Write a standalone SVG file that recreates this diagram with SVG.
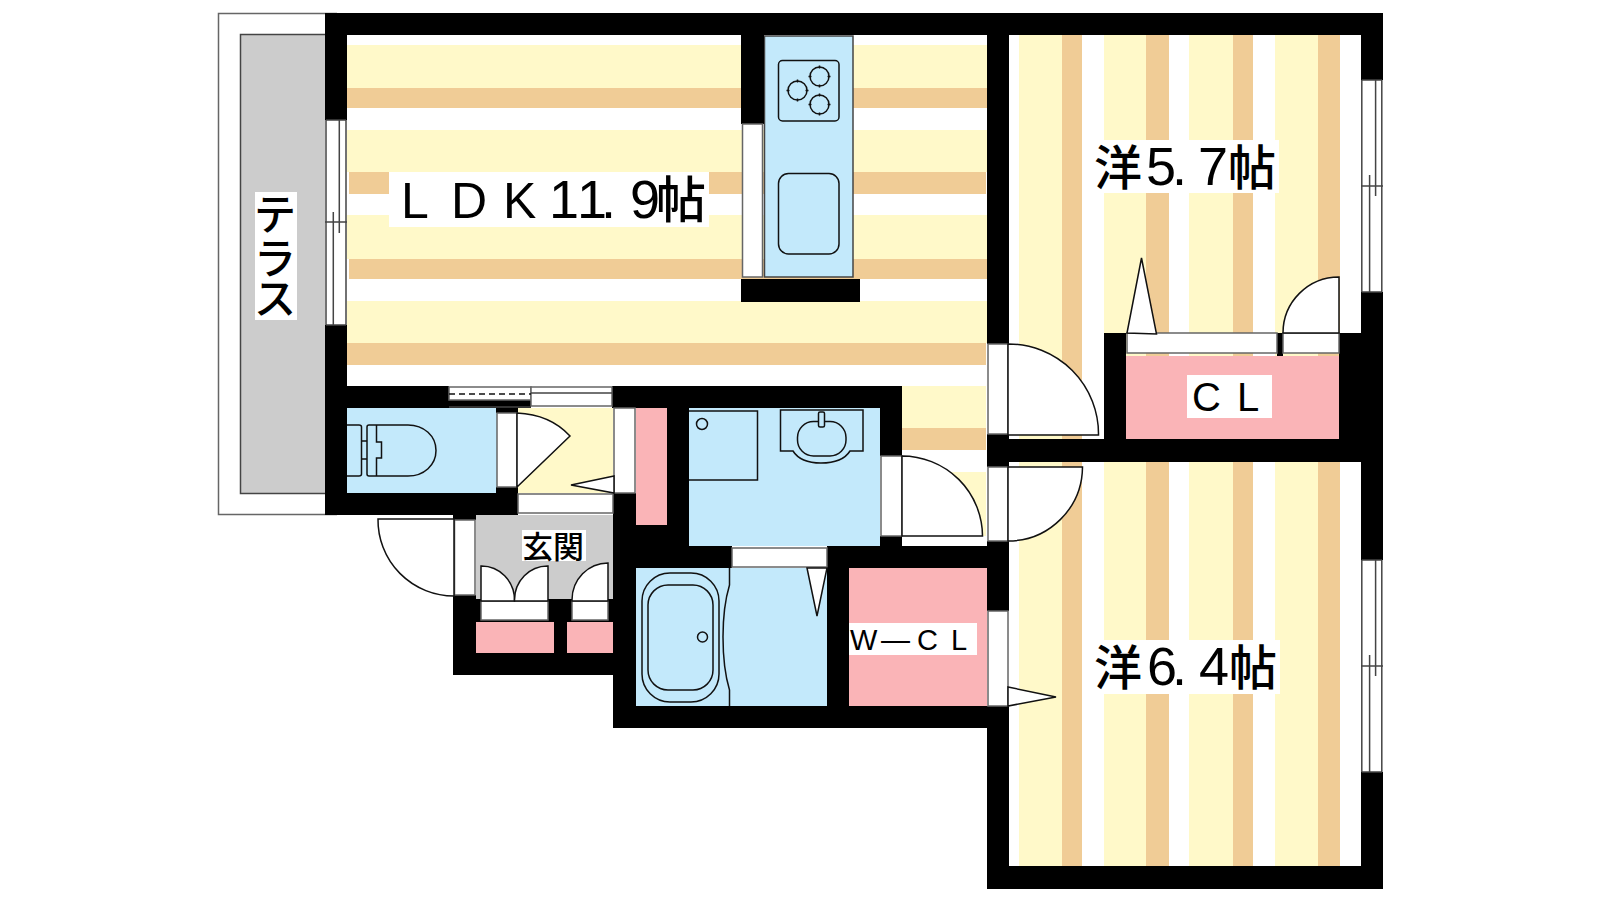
<svg xmlns="http://www.w3.org/2000/svg" width="1600" height="900" viewBox="0 0 1600 900">
<style>
text{font-family:"Noto Sans CJK JP","Noto Sans",sans-serif;fill:#000;font-weight:500}
.a{font-family:"Liberation Sans","Noto Sans CJK JP",sans-serif;font-weight:400}
.m{font-family:"Liberation Sans Narrow","Liberation Sans","Noto Sans CJK JP",sans-serif;font-weight:400}
.y{fill:#FFF9C9}.t{fill:#F0CC96}.b{fill:#C3E9FB}.p{fill:#FAB4B7}.g{fill:#CCC}.w{fill:#fff}.k{fill:#000}
.l{fill:none;stroke:#111;stroke-width:1.5}
.d{fill:#fff;stroke:#111;stroke-width:1.5}
.e{fill:#fff;stroke:#666;stroke-width:1.5}
.n{fill:none;stroke:#444;stroke-width:1.5}
</style>
<defs>
<path id="win" class="n" d="M.8 0H21M.8 212H21M.8 0V212M8.6 95V212M14.6 0V116M20.8 0V212M0 106H22"/>
<g id="burner">
<circle class="l" r="9.500"/>
<path class="l" d="M-11 0H-8M8 0H11M0 -11V-8M0 8V11"/>
</g>
</defs>
<rect class="w" width="1600" height="900"/>

<g id="terrace">
<path fill="#fff" stroke="#666" stroke-width="1.500" d="M337 13.500H218.500V514.500H337"/>
<rect class="g" x="240.500" y="34.500" width="90" height="459" stroke="#444" stroke-width="1.500"/>
<rect class="w" x="255" y="192" width="42" height="128"/>
<text font-size="42" x="254 254 254" y="230 274 314">テラス</text>
</g>

<g id="ldk-floor">
<rect class="w" x="347" y="35" width="640" height="501"/>
<rect class="y" x="347" y="45" width="640" height="43"/><rect class="t" x="347" y="88" width="640" height="20"/>
<rect class="y" x="347" y="130" width="640" height="42"/><rect class="t" x="349" y="172" width="637" height="22"/>
<rect class="y" x="347" y="215" width="640" height="44"/><rect class="t" x="349" y="259" width="638" height="20"/>
<rect class="y" x="347" y="301" width="640" height="42"/><rect class="t" x="347" y="343" width="639" height="22"/>
<rect class="y" x="902" y="386" width="84" height="42"/><rect class="t" x="902" y="428" width="84" height="22"/>
<rect class="y" x="902" y="472" width="84" height="64"/>
<rect class="w" x="389" y="172" width="320" height="55"/>
<text y="218"><tspan class="a" font-size="50" x="401 451 503">LDK</tspan><tspan class="m" font-size="54" x="549 577 601 630">11.9</tspan><tspan font-size="50" x="656">帖</tspan></text>
</g>

<g id="room-floors">
<rect class="w" x="1009" y="35" width="352" height="404"/>
<rect class="w" x="1009" y="462" width="352" height="404"/>
<g id="stripes-a">
<rect class="y" x="1019" y="35" width="43" height="404"/><rect class="t" x="1062" y="35" width="20" height="404"/>
<rect class="y" x="1104" y="35" width="42" height="404"/><rect class="t" x="1146" y="35" width="23" height="404"/>
<rect class="y" x="1189" y="35" width="44" height="404"/><rect class="t" x="1233" y="35" width="20" height="404"/>
<rect class="y" x="1275" y="35" width="43" height="404"/><rect class="t" x="1318" y="35" width="22" height="404"/>
</g>
<g id="stripes-b">
<rect class="y" x="1019" y="462" width="43" height="404"/><rect class="t" x="1062" y="462" width="20" height="404"/>
<rect class="y" x="1104" y="462" width="42" height="404"/><rect class="t" x="1146" y="462" width="23" height="404"/>
<rect class="y" x="1189" y="462" width="44" height="404"/><rect class="t" x="1233" y="462" width="20" height="404"/>
<rect class="y" x="1275" y="462" width="43" height="404"/><rect class="t" x="1318" y="462" width="22" height="404"/>
</g>
<rect class="w" x="1104" y="140" width="175" height="53"/>
<text y="185"><tspan font-size="48" x="1094">洋</tspan><tspan class="m" font-size="54" y="185" x="1146 1172 1198">5.7</tspan><tspan font-size="48" x="1228">帖</tspan></text>
<rect class="w" x="1104" y="640" width="176" height="54"/>
<text y="685"><tspan font-size="48" x="1094">洋</tspan><tspan class="m" font-size="54" x="1147 1172 1199">6.4</tspan><tspan font-size="48" x="1229">帖</tspan></text>
</g>

<g id="rooms">
<rect class="b" x="347" y="408" width="150" height="85"/>
<rect class="y" x="518" y="408" width="95" height="85"/>
<rect class="g" x="476" y="515" width="137" height="84"/>
<rect class="p" x="476" y="622" width="78" height="31"/>
<rect class="p" x="567" y="622" width="46" height="31"/>
<rect class="p" x="636" y="408" width="31" height="117"/>
<rect class="b" x="689" y="408" width="191" height="138"/>
<rect class="b" x="636" y="568" width="191" height="138"/>
<rect class="p" x="849" y="568" width="138" height="138"/>
<rect class="p" x="1126" y="356" width="213" height="83"/>
<rect class="b" x="764.500" y="36" width="88.500" height="241" stroke="#444" stroke-width="1.500"/>
</g>

<g id="walls" class="k">
<rect x="325" y="13" width="1058" height="22"/>
<rect x="325" y="13" width="22" height="107"/>
<rect x="325" y="325" width="22" height="190"/>
<rect x="325" y="386" width="124" height="22"/>
<rect x="325" y="493" width="193" height="22"/>
<rect x="496" y="487" width="22" height="28"/>
<rect x="496" y="408" width="22" height="5"/>
<rect x="453" y="515" width="23" height="5"/>
<rect x="453" y="595" width="23" height="80"/>
<rect x="453" y="653" width="160" height="22"/>
<rect x="476" y="599" width="137" height="23"/>
<rect x="554" y="622" width="13" height="31"/>
<rect x="613" y="493" width="23" height="235"/>
<rect x="612" y="386" width="290" height="22"/>
<rect x="880" y="386" width="22" height="70"/>
<rect x="880" y="536" width="22" height="10"/>
<rect x="667" y="408" width="22" height="160"/>
<rect x="635" y="525" width="54" height="43"/>
<rect x="635" y="546" width="97" height="22"/>
<rect x="827" y="546" width="182" height="22"/>
<rect x="827" y="546" width="22" height="182"/>
<rect x="613" y="706" width="396" height="22"/>
<rect x="987" y="13" width="22" height="331"/>
<rect x="987" y="434" width="22" height="33"/>
<rect x="987" y="541" width="22" height="70"/>
<rect x="987" y="706" width="22" height="183"/>
<rect x="987" y="866" width="396" height="23"/>
<rect x="1361" y="13" width="22" height="67"/>
<rect x="1361" y="292" width="22" height="268"/>
<rect x="1361" y="772" width="22" height="117"/>
<rect x="1009" y="439" width="374" height="23"/>
<rect x="1104" y="333" width="22" height="106"/>
<rect x="1339" y="333" width="22" height="106"/>
<rect x="741" y="35" width="23" height="89"/>
<rect x="741" y="279" width="119" height="23"/>
<rect x="449" y="400" width="82" height="8"/>
<rect x="1277" y="333" width="6" height="23"/>
</g>

<g id="windows">
<rect class="w" x="325" y="120" width="22" height="205"/>
<path class="n" d="M326 120H346M326 325H346M326 120V325M333.300 212V325M339.300 120V233M346 120V325M325 222H347"/>
<rect class="w" x="1361" y="80" width="22" height="212"/>
<use href="#win" x="1361" y="80"/>
<rect class="w" x="1361" y="560" width="22" height="212"/>
<use href="#win" x="1361" y="560"/>
<rect class="e" x="742.500" y="124" width="20" height="153"/>
<rect class="e" x="449" y="387" width="82" height="13"/>
<rect class="e" x="531" y="387" width="81" height="19"/>
<path d="M449 394H531" fill="none" stroke="#111" stroke-width="1.500" stroke-dasharray="6 4"/>
<path class="n" d="M531 393H612M449 407H531"/>
</g>

<g id="door-panes">
<rect class="e" x="988" y="344" width="20" height="90"/>
<rect class="e" x="988" y="467" width="20" height="74"/>
<rect class="e" x="988" y="611" width="20" height="95"/>
<rect class="e" x="881" y="456" width="21" height="80"/>
<rect class="e" x="732" y="548" width="95" height="19"/>
<rect class="e" x="497" y="413" width="20" height="74"/>
<rect class="e" x="518" y="494" width="95" height="19"/>
<rect class="e" x="614" y="408" width="21" height="85"/>
<rect class="e" x="454.500" y="520" width="20.500" height="75"/>
<rect class="e" x="481" y="601" width="67" height="19"/>
<rect class="e" x="572" y="601" width="36" height="19"/>
<rect class="e" x="1127" y="333" width="150" height="20"/>
<rect class="e" x="1283" y="333" width="56" height="20"/>
</g>

<g id="door-leaves">
<path class="d" d="M1008 344A90 90 0 0 1 1098.500 435H1008Z"/>
<path class="d" d="M1008 467H1082.500A74.500 74.500 0 0 1 1008 541Z"/>
<path class="d" d="M1008 687L1056 697L1008 706Z"/>
<path class="d" d="M902 456A80.500 80.500 0 0 1 982.500 536H902Z"/>
<path class="d" d="M807 568L817 616L827 568Z"/>
<path class="d" d="M517 413C540 414 558 423 570 436L517 487Z"/>
<path class="d" d="M614 476L571 485L614 493Z"/>
<path class="d" d="M454 519H378A76 76 0 0 0 454 596Z"/>
<path class="d" d="M481 601V566A33 34 0 0 1 514.500 600V601Z"/>
<path class="d" d="M548 601V566A33 34 0 0 0 514.500 600V601Z"/>
<path class="d" d="M608 601V563A36 37 0 0 0 572 600V601Z"/>
<path class="d" d="M1127 333L1141.500 258L1156.500 334Z"/>
<path class="d" d="M1339 333V277A56 56 0 0 0 1283 333Z"/>
</g>

<g id="kitchen">
<rect class="l" x="778.500" y="60.500" width="60.500" height="60.500" rx="4"/>
<use href="#burner" x="797.500" y="90.500"/>
<use href="#burner" x="819.500" y="76.500"/>
<use href="#burner" x="819.500" y="104.500"/>
<rect class="l" x="778.500" y="173.500" width="60.500" height="80.500" rx="10"/>
</g>

<g id="toilet">
<path class="l" d="M347 425H359Q361.500 425 361.500 427V474Q361.500 476 359 476H347"/>
<path class="l" d="M361.500 441H367M361.500 459H367"/>
<path class="l" d="M369 425H408C424 425 436 436 436 450.500C436 465 424 476 408 476H369Q367 476 367 474V427Q367 425 369 425Z"/>
<path class="l" d="M376.500 425V442H381.500V458H376.500V476"/>
</g>

<g id="washroom">
<path class="l" d="M689 411H757.500V480H689"/>
<circle class="l" cx="702" cy="424" r="5.500"/>
<path class="l" d="M780.500 410H863V451H850C845 459 834 463 821 463C808 463 798 459 793 451H780.500Z"/>
<rect class="l" x="797.500" y="421.500" width="48.500" height="34.500" rx="16"/>
<rect fill="#C3E9FB" stroke="#111" stroke-width="1.500" x="818.500" y="412" width="6" height="15" rx="1.500"/>
</g>

<g id="bath">
<rect class="l" x="642" y="573" width="77" height="129" rx="28"/>
<rect class="l" x="648" y="585" width="65" height="105" rx="20"/>
<circle class="l" cx="702.500" cy="637" r="5"/>
<path class="l" d="M729.500 568V585C725 600 723 620 723 637C723 655 725 675 729.500 690V706"/>
</g>

<g id="labels">
<rect class="w" x="522" y="530" width="64" height="31"/>
<text font-size="31" x="522 553" y="558">玄関</text>
<rect class="w" x="1187" y="375" width="85" height="43"/>
<text class="a" font-size="40" x="1192 1237" y="411">CL</text>
<rect class="w" x="849" y="623" width="128" height="32"/>
<text class="a" font-size="29" x="850 881 917 951" y="650">W—CL</text>
</g>
</svg>
